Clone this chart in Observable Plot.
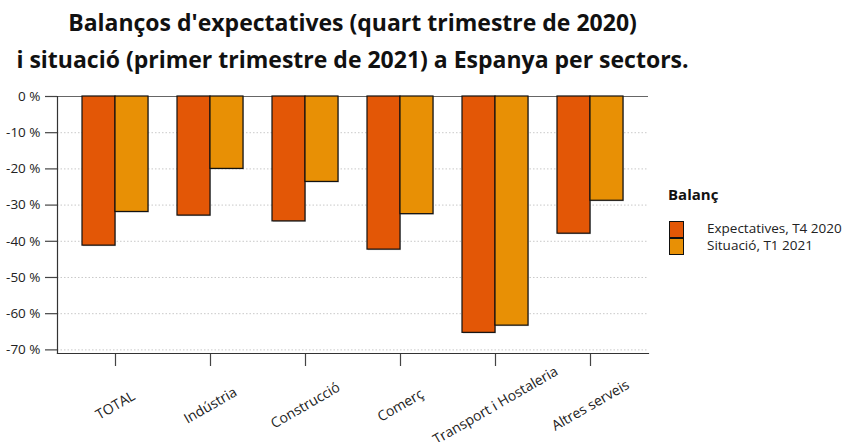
<!DOCTYPE html>
<html><head><meta charset="utf-8">
<script src="https://cdn.jsdelivr.net/npm/d3@7"></script>
<script src="https://cdn.jsdelivr.net/npm/@observablehq/plot@0.6"></script>
<style>
body{margin:0;background:#fff;font-family:"Open Sans",sans-serif;}
#wrap{position:relative;width:843px;height:442px;overflow:hidden;background:#fff;}
#title{position:absolute;left:0;width:705px;top:4px;text-align:center;font-weight:700;font-size:23px;line-height:37px;color:#111;}
#chart{position:absolute;left:0;top:80px;}
#legend{position:absolute;left:668px;top:184px;font-size:13.5px;color:#222;}
#legend .lt{font-weight:700;font-size:15px;color:#111;margin-bottom:17px;}
#legend .row{position:relative;height:17px;}
#legend .sw{position:absolute;left:1px;top:0;width:13px;height:15px;border:1px solid #111;}
#legend .lb{position:absolute;left:39px;top:-1px;line-height:17px;white-space:nowrap;}
</style></head>
<body>
<div id="wrap">
  <div id="title">Balanços d'expectatives (quart trimestre de 2020)<br>i situació (primer trimestre de 2021) a Espanya per sectors.</div>
  <div id="chart"></div>
  <div id="legend"></div>
</div>
<script>
const categories = ["TOTAL", "Indústria", "Construcció", "Comerç", "Transport i Hostaleria", "Altres serveis"];
const expectatives = [-41.2, -32.9, -34.5, -42.3, -65.3, -37.9];
const situacio = [-31.9, -20.0, -23.6, -32.5, -63.3, -28.8];
const seriesNames = ["Expectatives, T4 2020", "Situació, T1 2021"];
const seriesColors = ["#E35706", "#E89005"];
const legendTitle = "Balanç";
const yTicks = [0, -10, -20, -30, -40, -50, -60, -70];

const rowsExp = categories.map((c, i) => ({cat: c, value: expectatives[i], series: seriesNames[0]}));
const rowsSit = categories.map((c, i) => ({cat: c, value: situacio[i], series: seriesNames[1]}));

const half = 33;
const chart = Plot.plot({
  width: 843,
  height: 362,
  marginTop: 16,
  marginBottom: 89,
  marginLeft: 57,
  marginRight: 195,
  style: {fontFamily: "'Open Sans', sans-serif", fontSize: "13px", color: "#222", background: "transparent", overflow: "visible"},
  x: {domain: categories, paddingInner: 0.31, paddingOuter: 0.246, axis: null},
  y: {domain: [-71, 0], axis: null},
  color: {domain: seriesNames, range: seriesColors},
  marks: [
    Plot.gridY(yTicks.filter(d => d !== 0), {stroke: "#bbb", strokeOpacity: 1, strokeDasharray: "1.5,2", strokeWidth: 0.8}),
    Plot.ruleY([0], {stroke: "#666", strokeWidth: 1}),
    Plot.barY(rowsExp, {x: "cat", y: "value", insetRight: half, fill: "#888", fillOpacity: 0.5, dx: 1, dy: 1}),
    Plot.barY(rowsSit, {x: "cat", y: "value", insetLeft: half, fill: "#888", fillOpacity: 0.5, dx: 1, dy: 1}),
    Plot.barY(rowsExp, {x: "cat", y: "value", insetRight: half, fill: "series", stroke: "#111", strokeWidth: 1.2}),
    Plot.barY(rowsSit, {x: "cat", y: "value", insetLeft: half, fill: "series", stroke: "#111", strokeWidth: 1.2}),
    Plot.axisY({ticks: yTicks, tickSize: 12, tickPadding: 5, tickFormat: d => `${d} %`, stroke: "#444", strokeWidth: 1.2, fill: "#222", fontSize: 13.5, label: null}),
    Plot.axisX({tickSize: 13, tickFormat: () => "", stroke: "#444", strokeWidth: 1.2, label: null}),
    Plot.frame({anchor: "left", stroke: "#333", strokeWidth: 1.2}),
    Plot.frame({anchor: "bottom", stroke: "#333", strokeWidth: 1.2}),
    Plot.text(categories, {x: d => d, frameAnchor: "bottom", dy: 52, rotate: -30, textAnchor: "middle", lineAnchor: "middle", fontSize: 14, fill: "#222"})
  ]
});
document.getElementById("chart").appendChild(chart);

const leg = document.getElementById("legend");
const lt = document.createElement("div");
lt.className = "lt";
lt.textContent = legendTitle;
leg.appendChild(lt);
seriesNames.forEach((n, i) => {
  const row = document.createElement("div");
  row.className = "row";
  const sw = document.createElement("div");
  sw.className = "sw";
  sw.style.background = seriesColors[i];
  const lb = document.createElement("div");
  lb.className = "lb";
  lb.textContent = n;
  row.appendChild(sw);
  row.appendChild(lb);
  leg.appendChild(row);
});
</script>
</body></html>
